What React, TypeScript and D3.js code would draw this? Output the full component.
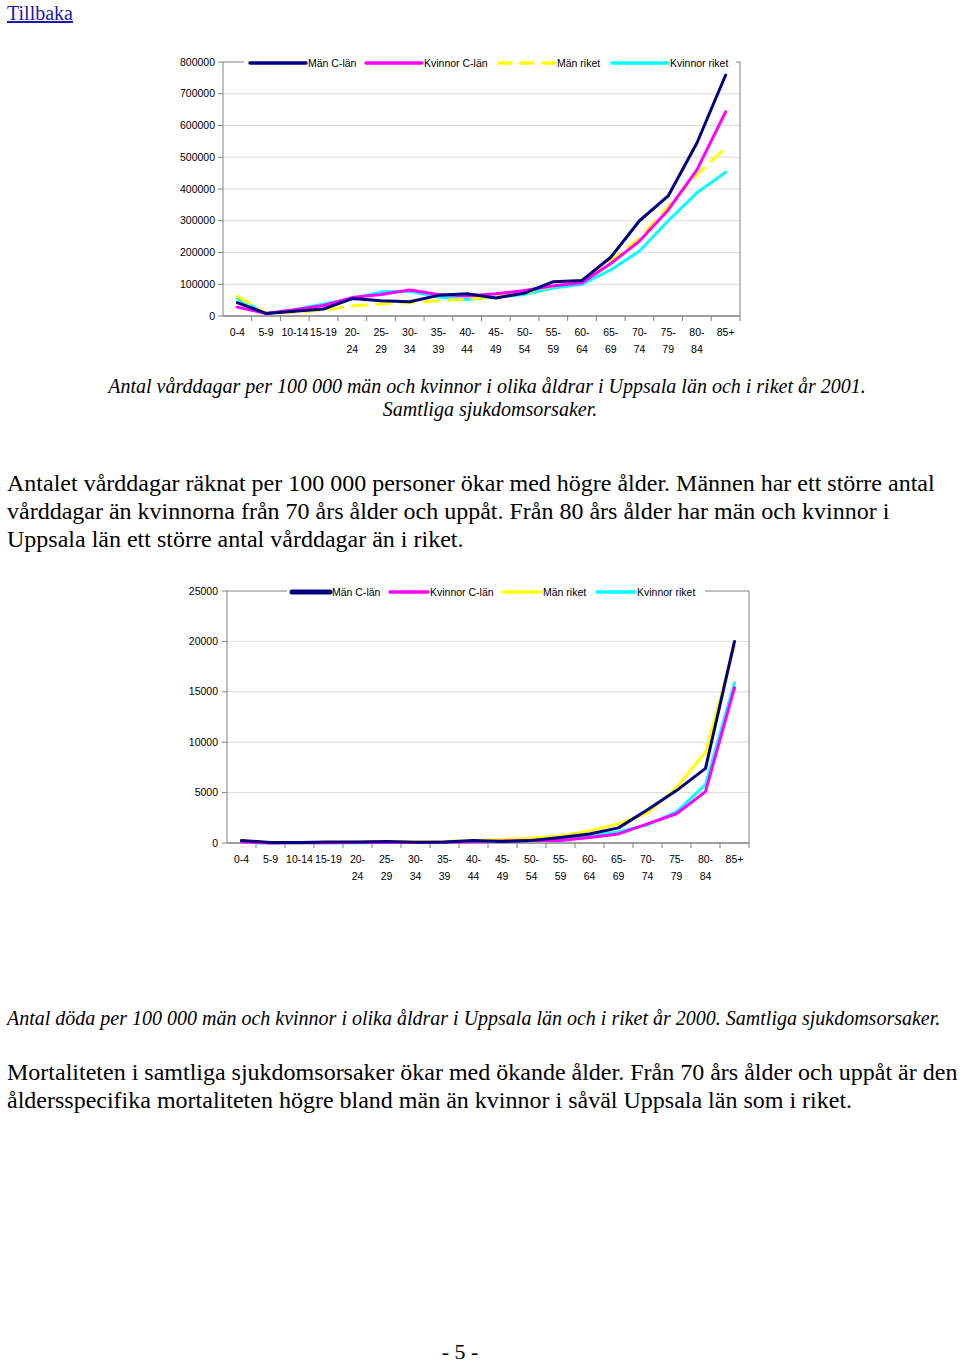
import React from "react";
import * as d3 from "d3";

const ageGroups = ["0-4","5-9","10-14","15-19","20-24","25-29","30-34","35-39","40-44","45-49","50-54","55-59","60-64","65-69","70-74","75-79","80-84","85+"];
const ageLine1 = ["0-4","5-9","10-14","15-19","20-","25-","30-","35-","40-","45-","50-","55-","60-","65-","70-","75-","80-","85+"];
const ageLine2 = ["","","","","24","29","34","39","44","49","54","59","64","69","74","79","84",""];

const seriesNames = ["Män C-län","Kvinnor C-län","Män riket","Kvinnor riket"];

// Chart 1: vårddagar per 100 000
const careMenC = [42000,8000,15000,22000,55000,48000,45000,65000,70000,57000,72000,108000,112000,185000,300000,378000,545000,759000];
const careWomenC = [28000,8000,20000,33000,58000,68000,82000,68000,63000,70000,80000,95000,105000,165000,236000,334000,460000,643000];
const careMenR = [62000,9000,12000,18000,32000,38000,42000,48000,53000,60000,72000,95000,115000,175000,245000,345000,445000,530000];
const careWomenR = [55000,8000,20000,38000,55000,76000,78000,60000,52000,60000,68000,88000,100000,145000,205000,300000,388000,453000];
const careTicks = [0,100000,200000,300000,400000,500000,600000,700000,800000];

// Chart 2: döda per 100 000
const deathMenC = [250,50,50,100,100,150,80,100,250,150,250,550,900,1500,3300,5200,7400,20000];
const deathWomenC = [100,10,20,30,40,50,50,80,120,200,250,250,550,900,1900,2900,5100,15400];
const deathMenR = [120,15,25,70,110,120,130,150,250,350,500,700,1200,1900,3000,5500,9000,19600];
const deathWomenR = [100,10,15,30,35,40,50,80,130,200,300,450,700,1100,1800,3100,5800,15900];
const deathTicks = [0,5000,10000,15000,20000,25000];

const colors = ["#000080", "#ff00ff", "#ffff00", "#00ffff"];

const FONT = "'Liberation Sans', Arial, sans-serif";
const SERIF = "'Liberation Serif', 'Times New Roman', serif";

type ChartProps = {
  left: number; right: number; top: number; bottom: number;
  yMax: number; ticks: number[]; series: number[][];
  dashedMen: boolean;
  legendX: number[]; legendLineW: number; legendBox: [number, number];
  labelX: number;
};

function Chart(p: ChartProps) {
  const x = d3.scalePoint<string>().domain(ageGroups).range([p.left, p.right]).padding(0.5);
  const band = (p.right - p.left) / ageGroups.length;
  const y = d3.scaleLinear().domain([0, p.yMax]).range([p.bottom, p.top]);
  const line = d3.line<number>().x((_, i) => x(ageGroups[i]) as number).y((d) => y(d));
  const order = [3, 2, 1, 0];
  return (
    <g>
      {p.ticks.map((t) => (
        <g key={t}>
          {t > 0 && t < p.yMax && (
            <line x1={p.left} x2={p.right} y1={y(t)} y2={y(t)} stroke="#dcdcdc" strokeWidth={1} />
          )}
          <line x1={p.left - 5} x2={p.left} y1={y(t)} y2={y(t)} stroke="#808080" />
          <text x={p.labelX} y={y(t) + 3.5} fontSize={10.5} textAnchor="end" fontFamily={FONT} fill="#000">
            {t}
          </text>
        </g>
      ))}
      <line x1={p.left} x2={p.right} y1={p.top} y2={p.top} stroke="#808080" />
      <line x1={p.right} x2={p.right} y1={p.top} y2={p.bottom} stroke="#808080" />
      <line x1={p.left} x2={p.left} y1={p.top} y2={p.bottom} stroke="#808080" />
      <line x1={p.left} x2={p.right} y1={p.bottom} y2={p.bottom} stroke="#808080" strokeWidth={1.5} />
      {ageGroups.map((g, i) => (
        <line key={g} x1={p.left + band * (i + 1)} x2={p.left + band * (i + 1)} y1={p.bottom} y2={p.bottom + 5} stroke="#808080" />
      ))}
      {ageGroups.map((g, i) => (
        <g key={"l" + g}>
          <text x={x(g)} y={p.bottom + 20} fontSize={10.5} textAnchor="middle" fontFamily={FONT}>{ageLine1[i]}</text>
          <text x={x(g)} y={p.bottom + 37} fontSize={10.5} textAnchor="middle" fontFamily={FONT}>{ageLine2[i]}</text>
        </g>
      ))}
      {order.map((si) => (
        <path key={si} d={line(p.series[si]) || ""} fill="none" stroke={colors[si]} strokeWidth={3}
          strokeLinejoin="round" strokeLinecap="round"
          strokeDasharray={p.dashedMen && si === 2 ? "14,10" : undefined} />
      ))}
      <rect x={p.legendBox[0]} y={p.top - 6} width={p.legendBox[1] - p.legendBox[0]} height={12} fill="#fff" />
      {seriesNames.map((n, i) => (
        <g key={n}>
          <line x1={p.legendX[i]} x2={p.legendX[i] + p.legendLineW} y1={p.top + 1} y2={p.top + 1}
            stroke={colors[i]} strokeWidth={i === 0 && !p.dashedMen ? 5 : 3.5} strokeLinecap="round"
            strokeDasharray={p.dashedMen && i === 2 ? "12,10" : undefined} />
          <text x={p.legendX[i] + p.legendLineW + 2} y={p.top + 5} fontSize={10.5} fontFamily={FONT}>{n}</text>
        </g>
      ))}
    </g>
  );
}

export default function App() {
  return (
    <svg width={960} height={1363} style={{ position: "absolute", left: 0, top: 0, background: "#fff" }}>
      <text x={7} y={20} fontSize={20} fontFamily={SERIF} fill="#1a1aa6" textDecoration="underline">Tillbaka</text>
      <Chart left={223} right={740} top={62} bottom={316} yMax={800000} ticks={careTicks}
        series={[careMenC, careWomenC, careMenR, careWomenR]} dashedMen={true}
        legendX={[250, 366, 499, 612]} legendLineW={56} legendBox={[244, 736]} labelX={215} />
      <text x={487} y={393} fontSize={20} fontFamily={SERIF} fontStyle="italic" textAnchor="middle">
        Antal vårddagar per 100 000 män och kvinnor i olika åldrar i Uppsala län och i riket år 2001.
      </text>
      <text x={490} y={416} fontSize={20} fontFamily={SERIF} fontStyle="italic" textAnchor="middle">
        Samtliga sjukdomsorsaker.
      </text>
      <text x={7} y={491} fontSize={24} fontFamily={SERIF}>Antalet vårddagar räknat per 100 000 personer ökar med högre ålder. Männen har ett större antal</text>
      <text x={7} y={519} fontSize={24} fontFamily={SERIF}>vårddagar än kvinnorna från 70 års ålder och uppåt. Från 80 års ålder har män och kvinnor i</text>
      <text x={7} y={547} fontSize={24} fontFamily={SERIF}>Uppsala län ett större antal vårddagar än i riket.</text>
      <Chart left={227} right={749} top={591} bottom={843} yMax={25000} ticks={deathTicks}
        series={[deathMenC, deathWomenC, deathMenR, deathWomenR]} dashedMen={false}
        legendX={[292, 390, 503, 597]} legendLineW={38} legendBox={[287, 705]} labelX={218} />
      <text x={7} y={1025} fontSize={20} fontFamily={SERIF} fontStyle="italic">
        Antal döda per 100 000 män och kvinnor i olika åldrar i Uppsala län och i riket år 2000. Samtliga sjukdomsorsaker.
      </text>
      <text x={7} y={1080} fontSize={24} fontFamily={SERIF}>Mortaliteten i samtliga sjukdomsorsaker ökar med ökande ålder. Från 70 års ålder och uppåt är den</text>
      <text x={7} y={1108} fontSize={24} fontFamily={SERIF}>åldersspecifika mortaliteten högre bland män än kvinnor i såväl Uppsala län som i riket.</text>
      <text x={460} y={1359} fontSize={22} fontFamily={SERIF} textAnchor="middle">- 5 -</text>
    </svg>
  );
}
